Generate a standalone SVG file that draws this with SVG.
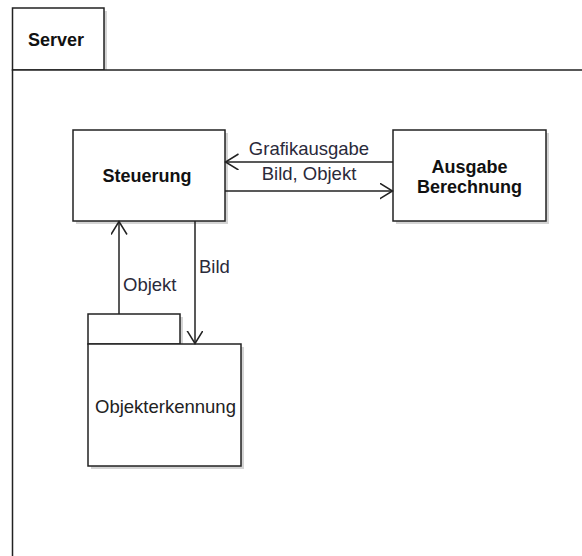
<svg xmlns="http://www.w3.org/2000/svg" width="582" height="556" viewBox="0 0 582 556">
<defs>
<style>
.box{fill:#fff;stroke:#222;stroke-width:1.5}
.sh{fill:#d4d4d4;stroke:none}
.b{font-family:"Liberation Sans",Arial,sans-serif;font-weight:bold;font-size:18px;fill:#111}
.t{font-family:"Liberation Sans",Arial,sans-serif;font-size:18.5px;fill:#222}
.lbl{font-family:"Liberation Sans",Arial,sans-serif;font-size:18.5px;fill:#2a2a3a}
.edge{fill:none;stroke:#222;stroke-width:1.5}
</style>
<marker id="open" markerUnits="userSpaceOnUse" markerWidth="20" markerHeight="20" refX="13" refY="8" orient="auto" viewBox="0 0 20 20">
<path d="M0,0 L13,8 L0,16" fill="none" stroke="#222" stroke-width="1.5"/>
</marker>
</defs>
<rect width="582" height="556" fill="#fff"/>
<g id="server">
<rect class="sh" x="15.5" y="11" width="91.5" height="62"/>
<rect class="box" x="12.5" y="8" width="91.5" height="62"/>
<rect class="box" x="12.5" y="70" width="580" height="500"/>
<text class="b" x="56" y="46" text-anchor="middle">Server</text>
</g>
<g id="steuerung">
<rect class="sh" x="76" y="133" width="152" height="91"/>
<rect class="box" x="73" y="130" width="152" height="91"/>
<text class="b" x="147" y="182" text-anchor="middle">Steuerung</text>
</g>
<g id="ausgabe">
<rect class="sh" x="396" y="133" width="153" height="91"/>
<rect class="box" x="393" y="130" width="153" height="91"/>
<text class="b" x="469.5" y="173" text-anchor="middle">Ausgabe</text>
<text class="b" x="469.5" y="193" text-anchor="middle">Berechnung</text>
</g>
<g id="objekterkennung">
<rect class="sh" x="91" y="317" width="92" height="30"/>
<rect class="box" x="88" y="314" width="92" height="30"/>
<rect class="sh" x="91" y="347" width="153" height="122"/>
<rect class="box" x="88" y="344" width="153" height="122"/>
<text class="t" x="165.5" y="413" text-anchor="middle">Objekterkennung</text>
</g>
<g id="connectors">
<path class="edge" d="M393,162 L225.5,162" marker-end="url(#open)"/>
<text class="lbl" x="309" y="155" text-anchor="middle">Grafikausgabe</text>
<path class="edge" d="M225,191 L392.5,191" marker-end="url(#open)"/>
<text class="lbl" x="309" y="180" text-anchor="middle">Bild, Objekt</text>
<path class="edge" d="M119,314 L119,221.5" marker-end="url(#open)"/>
<text class="lbl" x="123" y="291">Objekt</text>
<path class="edge" d="M195,221 L195,343.5" marker-end="url(#open)"/>
<text class="lbl" x="199" y="273">Bild</text>
</g>
</svg>
